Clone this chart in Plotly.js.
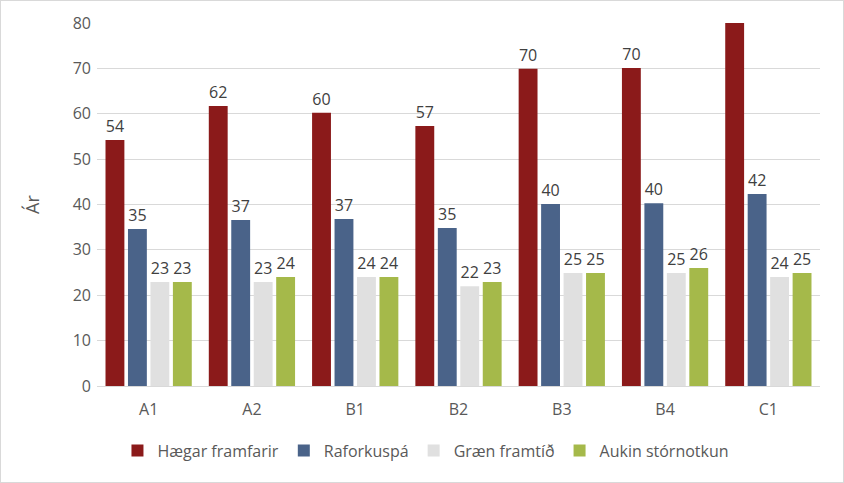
<!DOCTYPE html>
<html>
<head>
<meta charset="utf-8">
<script src="https://cdn.plot.ly/plotly-3.0.1.min.js"></script>
<style>
html,body{margin:0;padding:0;background:#fff;}
#wrap{width:844px;height:483px;box-sizing:border-box;border:1px solid #d9d9d9;}
#chart{width:842px;height:481px;}
</style>
</head>
<body>
<div id="wrap"><div id="chart"></div></div>
<script>
const categories = ["A1","A2","B1","B2","B3","B4","C1"];
const seriesNames = ["Hægar framfarir","Raforkuspá","Græn framtíð","Aukin stórnotkun"];
const haegar = [54.2, 61.7, 60.2, 57.3, 69.9, 70.1, 81];
const raforkuspa = [34.6, 36.6, 36.8, 34.8, 40.1, 40.3, 42.3];
const graen = [22.9, 22.9, 24.0, 22.0, 24.9, 24.9, 24.0];
const aukin = [22.9, 24.0, 24.0, 22.9, 24.9, 26.0, 24.9];
const colors = ["#8B1A1A","#4A6389","#E0E0E0","#A5B94A"];
const yTicks = [0,10,20,30,40,50,60,70,80];
const yMax = 80;

const font = "'Open Sans', 'Noto Sans', sans-serif";
const allSeries = [haegar, raforkuspa, graen, aukin];
const traces = allSeries.map((vals, i) => ({
  type: "bar",
  name: seriesNames[i],
  x: categories,
  y: vals,
  // labels above the axis maximum are not shown in the reference
  text: vals.map(v => v > yMax ? "" : String(Math.round(v))),
  textposition: "outside",
  cliponaxis: true,
  textfont: {family: font, size: 16, color: "#404040"},
  marker: {color: colors[i]},
  hoverinfo: "x+y+name"
}));

const layout = {
  width: 842, height: 481,
  margin: {l: 96, r: 23, t: 22, b: 96},
  paper_bgcolor: "#fff", plot_bgcolor: "#fff",
  barmode: "group",
  bargap: 0.13,
  bargroupgap: 0.16,
  font: {family: font, color: "#595959", size: 16},
  showlegend: true,
  legend: {orientation: "h", x: 0.455, xanchor: "center", y: -0.178, yanchor: "middle",
           font: {family: font, size: 16, color: "#595959"}, traceorder: "normal"},
  xaxis: {type: "category", tickfont: {family: font, size: 16, color: "#595959"},
          showgrid: false, showline: false, ticks: "", zeroline: false, ticklabelstandoff: 12},
  yaxis: {range: [0, yMax], tickvals: yTicks, ticktext: yTicks.map(String),
          tickfont: {family: font, size: 16, color: "#595959"},
          gridcolor: "#d9d9d9", gridwidth: 1, zeroline: true, zerolinecolor: "#d9d9d9", zerolinewidth: 1,
          showline: false, ticks: "", automargin: false, ticklabelstandoff: 5,
          title: {text: "Ár", font: {family: font, size: 18, color: "#595959"}, standoff: 28}}
};
Plotly.newPlot("chart", traces, layout, {displayModeBar: false, staticPlot: true});
</script>
</body>
</html>
